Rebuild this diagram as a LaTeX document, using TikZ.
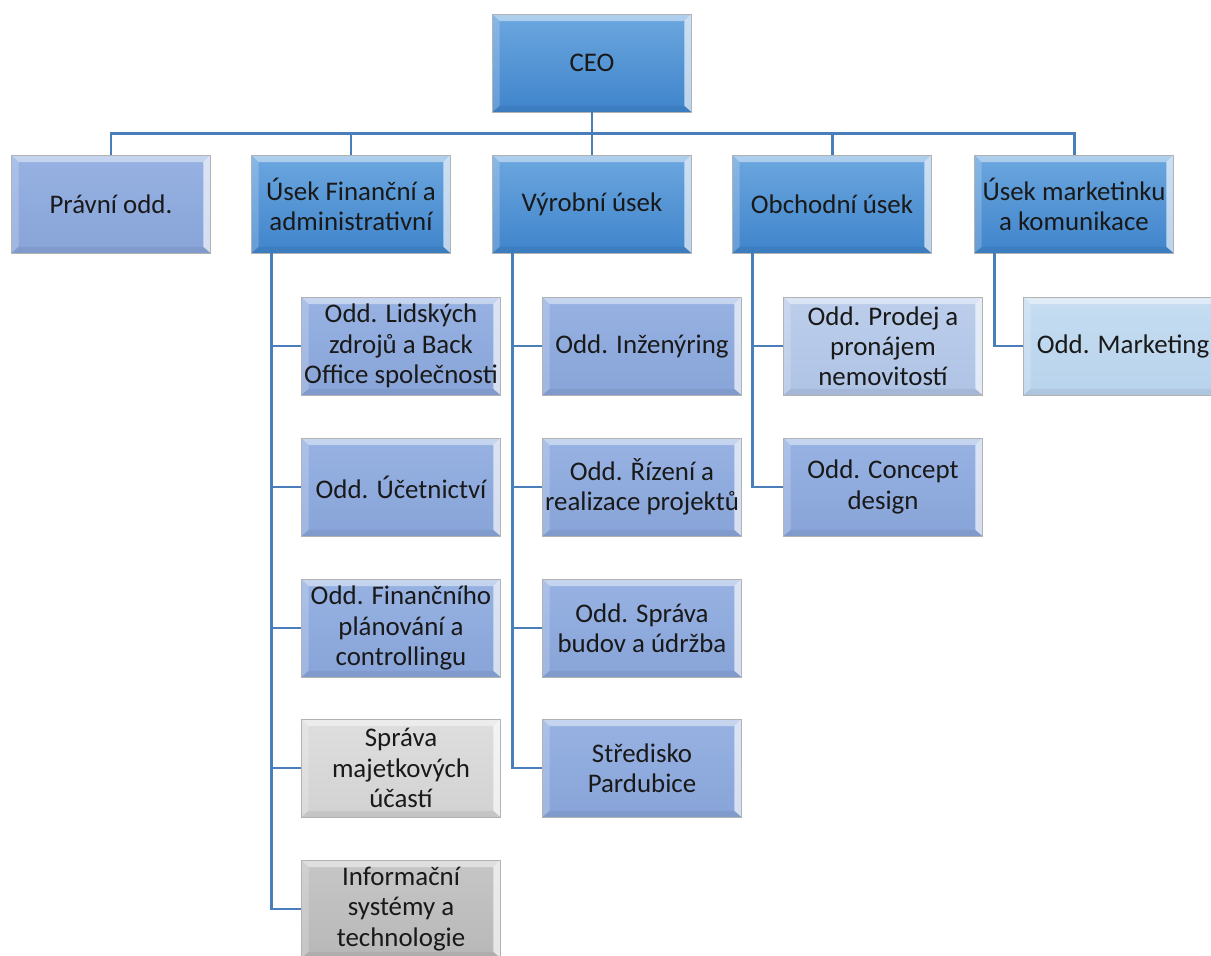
\documentclass[tikz,border=0pt]{standalone}
\usepackage{fontspec}
\setmainfont{Carlito}
\usepackage{xcolor}
\usetikzlibrary{positioning}
\usetikzlibrary{calc}

\definecolor{lineblue}{HTML}{4A7EBB}
\definecolor{mainTop}{HTML}{6CA7DF}
\definecolor{mainBot}{HTML}{3F84CB}
\definecolor{oddTop}{HTML}{97B2E2}
\definecolor{oddBot}{HTML}{88A4D8}
\definecolor{paleTop}{HTML}{BCCEEB}
\definecolor{paleBot}{HTML}{AFC3E5}
\definecolor{skyTop}{HTML}{C6DDF1}
\definecolor{skyBot}{HTML}{B8D3EC}
\definecolor{greyTop}{HTML}{DEDEDE}
\definecolor{greyBot}{HTML}{D2D2D2}
\definecolor{darkgreyTop}{HTML}{C6C6C6}
\definecolor{darkgreyBot}{HTML}{B8B8B8}

\tikzset{bevel/.style={path picture={
  \fill[white,opacity=.45] (path picture bounding box.north west) -- (path picture bounding box.north east)
     -- ([xshift=-4pt,yshift=-4pt]path picture bounding box.north east) -- ([xshift=4pt,yshift=-4pt]path picture bounding box.north west) -- cycle;
  \fill[white,opacity=.65] (path picture bounding box.north east) -- (path picture bounding box.south east)
     -- ([xshift=-4pt,yshift=3.5pt]path picture bounding box.south east) -- ([xshift=-4pt,yshift=-4pt]path picture bounding box.north east) -- cycle;
  \fill[white,opacity=.2] (path picture bounding box.north west) -- (path picture bounding box.south west)
     -- ([xshift=4pt,yshift=3.5pt]path picture bounding box.south west) -- ([xshift=4pt,yshift=-4pt]path picture bounding box.north west) -- cycle;
  \fill[black,opacity=.06] (path picture bounding box.south west) -- (path picture bounding box.south east)
     -- ([xshift=-4pt,yshift=3.5pt]path picture bounding box.south east) -- ([xshift=4pt,yshift=3.5pt]path picture bounding box.south west) -- cycle;
}}}

\tikzstyle{unit}=[rectangle,draw=black!30,line width=0.5pt,minimum width=3.98cm,minimum height=1.96cm,inner sep=0pt,align=center,text=black!90,font=\fontsize{15.3}{17.2}\selectfont,bevel]
\tikzstyle{mainunit}=[unit,top color=mainTop,bottom color=mainBot]
\tikzstyle{oddunit}=[unit,top color=oddTop,bottom color=oddBot]
\tikzstyle{paleunit}=[unit,top color=paleTop,bottom color=paleBot]
\tikzstyle{skyunit}=[unit,top color=skyTop,bottom color=skyBot]
\tikzstyle{greyunit}=[unit,top color=greyTop,bottom color=greyBot]
\tikzstyle{darkgreyunit}=[unit,top color=darkgreyTop,bottom color=darkgreyBot]
\tikzstyle{orgline}=[draw=lineblue,line width=1.7pt]

\begin{document}
\begin{tikzpicture}[x=0.02cm,y=-0.02cm]

\useasboundingbox (0,0) rectangle (1211,956);

%layer 0
\node[mainunit] (ceo) at (592,63) {CEO};

%layer 1
\node[oddunit] (pravni) at (111,204) {Právní odd.};
\foreach \pos/\name/\label in {{(351,204)/financni/{Úsek Finanční a\\administrativní}}, {(592,204)/vyrobni/{Výrobní úsek}}, {(832,204)/obchodni/{Obchodní úsek}}, {(1074,204)/marketing/{Úsek marketinku\\a komunikace}}}
    \node[mainunit] (\name) at \pos {\label};

%layer 2 - finance
\foreach \pos/\name/\label in {{(401,346)/f1/{Odd. Lidských\\zdrojů a Back\\Office společnosti}}, {(401,487)/f2/{Odd. Účetnictví}}, {(401,628)/f3/{Odd. Finančního\\plánování a\\controllingu}}}
    \node[oddunit] (\name) at \pos {\label};
\node[greyunit] (f4) at (401,768) {Správa\\majetkových\\účastí};
\node[darkgreyunit] (f5) at (401,909) {Informační\\systémy a\\technologie};

%layer 2 - vyroba
\foreach \pos/\name/\label in {{(642,346)/v1/{Odd. Inženýring}}, {(642,487)/v2/{Odd. Řízení a\\realizace projektů}}, {(642,628)/v3/{Odd. Správa\\budov a údržba}}, {(642,768)/v4/{Středisko\\Pardubice}}}
    \node[oddunit] (\name) at \pos {\label};

%layer 2 - obchod, marketing
\node[paleunit] (o1) at (883,346) {Odd. Prodej a\\pronájem\\nemovitostí};
\node[oddunit] (o2) at (883,487) {Odd. Concept\\design};
\node[skyunit] (m1) at (1123,346) {Odd. Marketing};

% Connect CEO with the units
\coordinate (bus) at ($(ceo.south)!0.5!(vyrobni.north)$);
\draw[orgline] (ceo.south) -- (vyrobni.north);
\draw[orgline] (pravni.north) |- (bus) -| (marketing.north);
\foreach \name in {financni,obchodni}
    \draw[orgline] (\name.north) |- (bus);

% stems to the departments
\foreach \boss/\list in {financni/{f1,f2,f3,f4,f5}, vyrobni/{v1,v2,v3,v4}, obchodni/{o1,o2}, marketing/{m1}}{
    \coordinate (\boss-stem) at ($(\boss.south west)+(20.5,0)$);
    \foreach \dest in \list
        \draw[orgline] (\boss-stem) |- (\dest.west);
}

\end{tikzpicture}
\end{document}
